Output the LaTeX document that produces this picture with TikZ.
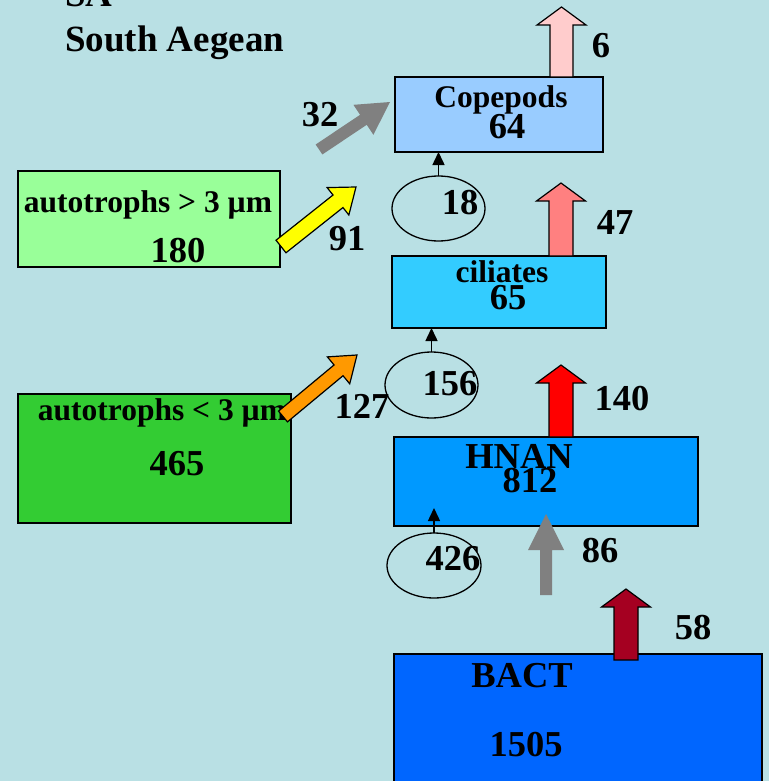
\documentclass[tikz,border=0pt]{standalone}
\usepackage{fontspec}
\setmainfont{Liberation Serif}
\usetikzlibrary{calc,shapes.geometric,arrows.meta}

\definecolor{bg}{RGB}{185,224,228}
\definecolor{copfill}{HTML}{99CCFF}
\definecolor{bigautofill}{HTML}{99FF99}
\definecolor{cilfill}{HTML}{33CCFF}
\definecolor{smallautofill}{HTML}{33CC33}
\definecolor{hnanfill}{HTML}{0099FF}
\definecolor{bactfill}{HTML}{0066FF}
\definecolor{exppink}{HTML}{FFCCCC}
\definecolor{expsalmon}{HTML}{FF8080}
\definecolor{expred}{HTML}{FF0000}
\definecolor{expdark}{HTML}{A50021}
\definecolor{flowgray}{HTML}{808080}
\definecolor{flowyellow}{HTML}{FFFF00}
\definecolor{floworange}{HTML}{FF9900}

% Block arrow: style, tail, tip, shaft half-width, head half-width, head length
\newcommand\blockarrow[6]{%
  \coordinate (ba-hb) at ($(#3)!#6!(#2)$);
  \path[#1] ($(#2)!#4!90:(#3)$) -- ($(ba-hb)!#4!90:(#3)$) -- ($(ba-hb)!#5!90:(#3)$)
    -- (#3) -- ($(ba-hb)!#5!-90:(#3)$) -- ($(ba-hb)!#4!-90:(#3)$)
    -- ($(#2)!#4!-90:(#3)$) -- cycle;
}

\begin{document}
\begin{tikzpicture}[x=1pt,y=-1pt,
  every node/.style={font=\fontsize{36.5}{40}\selectfont\bfseries, inner sep=0pt},
  box/.style={draw=black, line width=1.5pt, rectangle, anchor=north west, inner sep=0pt, outer sep=0pt},
  pool/.style={draw=black, line width=1.3pt, ellipse, inner sep=0pt, outer sep=0pt},
  lbl/.style={anchor=base},
  cname/.style={anchor=base, font=\fontsize{31.5}{34}\selectfont\bfseries},
  feed/.style={draw=black, line width=1.5pt, -{Triangle[width=12pt,length=13pt]}},
  outlined/.style={draw=black, line width=1.2pt, line join=miter},
]
\useasboundingbox (0,0) rectangle (769,781);
\fill[bg] (0,0) rectangle (769,781);

% title
\node[anchor=base west, font=\fontsize{37}{40}\selectfont\bfseries] (site) at (65,7) {SA};
\node[anchor=base west, font=\fontsize{37}{40}\selectfont\bfseries] (region) at (65,52) {South Aegean};

% compartments
\node[box, fill=copfill, minimum width=208pt, minimum height=75pt] (cop) at (395,77) {};
\node[box, fill=bigautofill, minimum width=262pt, minimum height=96pt] (abig) at (18,171) {};
\node[box, fill=cilfill, minimum width=214pt, minimum height=72pt] (cil) at (392,256) {};
\node[box, fill=smallautofill, minimum width=273pt, minimum height=129pt] (asmall) at (18,394) {};
\node[box, fill=hnanfill, minimum width=304pt, minimum height=89pt] (hnan) at (394,437) {};
\node[box, fill=bactfill, minimum width=368pt, minimum height=135pt] (bact) at (394,654) {};

% grazing pools
\node[pool, minimum width=93pt, minimum height=65pt] (e18) at (438.5,208.5) {};
\node[pool, minimum width=93pt, minimum height=66pt] (e156) at (431.5,385) {};
\node[pool, minimum width=94pt, minimum height=65pt] (e426) at (434,565.5) {};

% compartment labels
\node[cname] (tcop) at (501,107) {Copepods};
\node[lbl] (vcop) at (507,139) {64};
\node[cname] (tabig) at (148,212) {autotrophs > 3 µm};
\node[lbl] (vabig) at (178,262) {180};
\node[cname] (tcil) at (502,282) {ciliates};
\node[lbl] (vcil) at (508,309) {65};
\node[cname] (tasmall) at (162,420) {autotrophs < 3 µm};
\node[lbl] (vasmall) at (177,475) {465};
\node[lbl] (thnan) at (519,468) {HNAN};
\node[lbl] (vhnan) at (530,492) {812};
\node[lbl] (tbact) at (522,687) {BACT};
\node[lbl] (vbact) at (526,756) {1505};

% pool values
\node[lbl] (v18) at (460,214) {18};
\node[lbl] (v156) at (450,395) {156};
\node[lbl] (v426) at (453,570) {426};

% flow labels
\node[lbl] (f6) at (601,58) {6};
\node[lbl] (f32) at (320,127) {32};
\node[lbl] (f91) at (347,250) {91};
\node[lbl] (f47) at (615,234) {47};
\node[lbl] (f127) at (362,418) {127};
\node[lbl] (f140) at (622,410) {140};
\node[lbl] (f86) at (600,562) {86};
\node[lbl] (f58) at (693,639) {58};

% arrow end points
\coordinate (copOut) at (561.5,77);
\coordinate (copOutTip) at (561.5,7);
\coordinate (cilOut) at (561,256);
\coordinate (cilOutTip) at (561,183);
\coordinate (hnanOut) at (561,437);
\coordinate (hnanOutTip) at (561,365);
\coordinate (bactOut) at (626,660);
\coordinate (bactOutTip) at (626,589);
\coordinate (hnanInTail) at (546,595);
\coordinate (hnanIn) at (546,514);
\coordinate (copInTail) at (319,149.5);
\coordinate (copIn) at (390,102);
\coordinate (abigOut) at (281,246.5);
\coordinate (cilIn1) at (356,187);
\coordinate (asmallOut) at (283,416.5);
\coordinate (cilIn2) at (357,355);
\coordinate (hnanFeed) at (434,508);

% export arrows
\blockarrow{outlined, fill=exppink}{copOut}{copOutTip}{11.5pt}{24.5pt}{18pt}
\blockarrow{outlined, fill=expsalmon}{cilOut}{cilOutTip}{12pt}{24.5pt}{18pt}
\blockarrow{outlined, fill=expred}{hnanOut}{hnanOutTip}{12pt}{24.5pt}{18pt}
\blockarrow{outlined, fill=expdark}{bactOut}{bactOutTip}{12pt}{24.5pt}{18pt}

% transfer arrows
\blockarrow{fill=flowgray}{hnanInTail}{hnanIn}{6pt}{18pt}{36pt}
\blockarrow{fill=flowgray}{copInTail}{copIn}{6pt}{18pt}{32pt}
\blockarrow{outlined, fill=flowyellow}{abigOut}{cilIn1}{8pt}{17.5pt}{23pt}
\blockarrow{outlined, fill=floworange}{asmallOut}{cilIn2}{7pt}{17.5pt}{24pt}

% grazing through pools
\draw[feed] (e18.north) -- (cop.south -| e18.north);
\draw[feed] (e156.north) -- (cil.south -| e156.north);
\draw[feed] (e426.north) -- (hnanFeed);
\end{tikzpicture}
\end{document}
